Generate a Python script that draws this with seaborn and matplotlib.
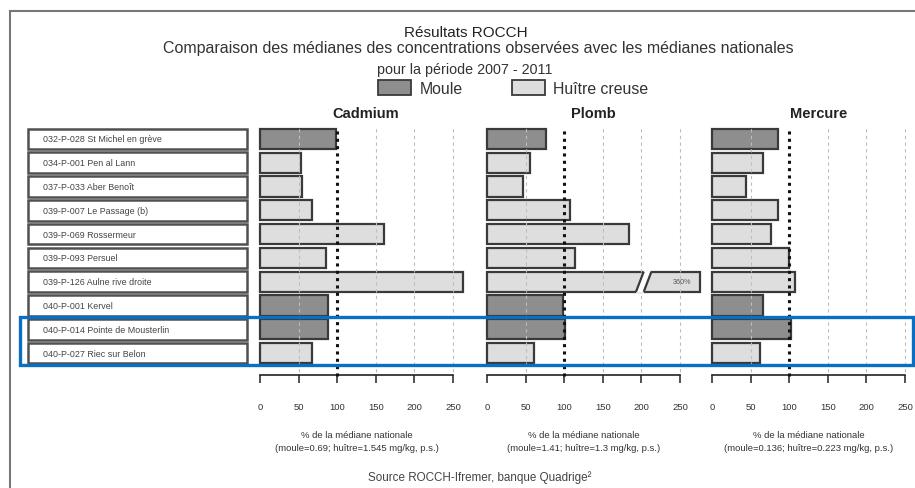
import numpy as np
import pandas as pd
import seaborn as sns
import matplotlib.pyplot as plt
from matplotlib.patches import Rectangle, Polygon, Patch

# Données (en % de la médiane nationale)
sites = [
    "032-P-028 St Michel en grève",
    "034-P-001 Pen al Lann",
    "037-P-033 Aber Benoît",
    "039-P-007 Le Passage (b)",
    "039-P-069 Rossermeur",
    "039-P-093 Persuel",
    "039-P-126 Aulne rive droite",
    "040-P-001 Kervel",
    "040-P-014 Pointe de Mousterlin",
    "040-P-027 Riec sur Belon",
]
especes = ["Moule", "Huître creuse", "Huître creuse", "Huître creuse", "Huître creuse",
           "Huître creuse", "Huître creuse", "Moule", "Moule", "Huître creuse"]
cadmium = [99, 53, 55, 67, 161, 86, 263, 88, 88, 67]
plomb = [77, 56, 46, 107, 184, 114, 360, 98, 101, 61]
mercure = [86, 66, 44, 86, 76, 100, 108, 66, 102, 62]

panneaux = ["Cadmium", "Plomb", "Mercure"]
medianes = [
    "(moule=0.69; huître=1.545 mg/kg, p.s.)",
    "(moule=1.41; huître=1.3 mg/kg, p.s.)",
    "(moule=0.136; huître=0.223 mg/kg, p.s.)",
]
ticks = [0, 50, 100, 150, 200, 250]

# Style
MOULE = "#8e8e8e"
HUITRE = "#dedede"
EDGE = "#3a3a3a"
XMAX = 275          # limite affichée de l'axe
CAP = 276           # barre coupée au-delà
BREAK_LO, BREAK_HI, SLANT = 193, 203, 10

sns.set_style("white")
plt.rcParams["font.family"] = ["Liberation Sans", "DejaVu Sans"]

W, H = 915, 489
fig = plt.figure(figsize=(W / 100, H / 100), dpi=100)


def box(x0, y0, x1, y1):
    # pixels (origine en haut à gauche) -> coordonnées figure
    return [x0 / W, 1 - y1 / H, (x1 - x0) / W, (y1 - y0) / H]


TOP, BOTTOM = 128, 366
PX_PER_UNIT = 0.772
zeros = [260, 487, 712]

df = pd.DataFrame({
    "site": sites,
    "espece": especes,
    "Cadmium": cadmium,
    "Plomb": np.minimum(plomb, CAP),
    "Mercure": mercure,
})
n = len(sites)

# Colonne des stations
ax_lab = fig.add_axes(box(28, TOP, 247, BOTTOM))
ax_lab.barh(range(n), [1] * n, height=0.86, color="white", edgecolor="#505050",
            linewidth=1.8, clip_on=False)
for i, s in enumerate(sites):
    ax_lab.text(0.07, i, s, va="center", ha="left", fontsize=6.4, color="#444444")
ax_lab.set_xlim(0, 1)
ax_lab.set_ylim(n - 0.5, -0.5)
ax_lab.axis("off")

for k, (nom, x0) in enumerate(zip(panneaux, zeros)):
    ax = fig.add_axes(box(x0, TOP, x0 + XMAX * PX_PER_UNIT, BOTTOM))
    sns.barplot(data=df, x=nom, y="site", hue="espece", dodge=False,
                palette={"Moule": MOULE, "Huître creuse": HUITRE},
                orient="h", width=0.85, edgecolor=EDGE, linewidth=1.6,
                legend=False, ax=ax, zorder=2)
    ax.set_xlim(0, XMAX)
    ax.set_ylim(n - 0.5, -0.5)
    for p in ax.patches:
        p.set_clip_on(False)

    # lignes de repère
    for v in [50, 150, 200, 250]:
        ax.axvline(v, ymin=-0.03, ymax=1, color="#bdbdbd", ls=(0, (3, 3)),
                   lw=0.8, zorder=2.5, clip_on=False)
    ax.axvline(100, ymin=-0.045, ymax=1, color="#111111", ls=(0, (1, 1.4)),
               lw=2.2, zorder=3, clip_on=False)

    # axe du bas
    for side in ["top", "right", "left"]:
        ax.spines[side].set_visible(False)
    ax.spines["bottom"].set_position(("outward", 7.2))
    ax.spines["bottom"].set_bounds(0, 250)
    ax.spines["bottom"].set_color("#222222")
    ax.spines["bottom"].set_linewidth(1.2)
    ax.set_xticks(ticks)
    ax.set_xticklabels([str(t) for t in ticks])
    ax.tick_params(axis="x", bottom=True, direction="out", length=5.8, width=1.1,
                   color="#222222", pad=14, labelsize=6.8, labelcolor="#333333")
    ax.set_yticks([])
    ax.set_ylabel("")
    ax.set_xlabel("% de la médiane nationale\n" + medianes[k], fontsize=6.8,
                  color="#333333", linespacing=1.45)
    ax.xaxis.set_label_coords(125 / XMAX, -0.275)
    ax.set_title(nom, fontsize=10.5, fontweight="bold", pad=7, color="#222222")

    # barre coupée (valeur hors échelle)
    for i, val in enumerate(df[nom]):
        if nom == "Plomb" and plomb[i] > CAP - 1:
            yb, yt = i + 0.47, i - 0.47
            ax.add_patch(Polygon([(BREAK_LO, yb), (BREAK_LO + SLANT, yt),
                                  (BREAK_HI + SLANT, yt), (BREAK_HI, yb)],
                                 closed=True, facecolor="white", edgecolor="none",
                                 zorder=4, clip_on=False))
            hb, ht = i + 0.425, i - 0.425
            for xb in [BREAK_LO, BREAK_HI]:
                ax.plot([xb, xb + SLANT], [hb, ht], color=EDGE, lw=1.6,
                        zorder=5, clip_on=False, solid_capstyle="butt")
            ax.text(253, i, f"{plomb[i]}%", ha="center", va="center",
                    fontsize=5.2, color="#555555", zorder=6)

# Titres
fig.text(466 / W, 1 - 33 / H, "Résultats ROCCH", ha="center", va="center",
         fontsize=11, color="#222222")
fig.text(478 / W, 1 - 49 / H,
         "Comparaison des médianes des concentrations observées avec les médianes nationales",
         ha="center", va="center", fontsize=11.5, color="#333333")
fig.text(465 / W, 1 - 70 / H, "pour la période 2007 - 2011", ha="center",
         va="center", fontsize=10.3, color="#333333")

fig.legend(handles=[Patch(facecolor=MOULE, edgecolor=EDGE, linewidth=1.3, label="Moule"),
                    Patch(facecolor=HUITRE, edgecolor=EDGE, linewidth=1.3,
                          label="Huître creuse")],
           loc="center", bbox_to_anchor=(513 / W, 1 - 89 / H), ncol=2,
           frameon=False, fontsize=11.4, handlelength=2.1, handleheight=1.1,
           handletextpad=0.5, columnspacing=3.1, labelcolor="#333333")

fig.text(480 / W, 1 - 478 / H, "Source ROCCH-Ifremer, banque Quadrige²",
         ha="center", va="center", fontsize=8.4, color="#444444")

# Cadre et encadré bleu
fig.add_artist(Rectangle((10 / W, -0.1), 1.0, 1 - 12 / H + 0.1,
                         transform=fig.transFigure, fill=False,
                         edgecolor="#777777", linewidth=1.5))
fig.add_artist(Rectangle((20 / W, 1 - 366 / H), (913 - 20) / W, (366 - 318) / H,
                         transform=fig.transFigure, fill=False,
                         edgecolor="#0a6ec2", linewidth=2.4, zorder=10))

fig.savefig("out.png", dpi=100)
